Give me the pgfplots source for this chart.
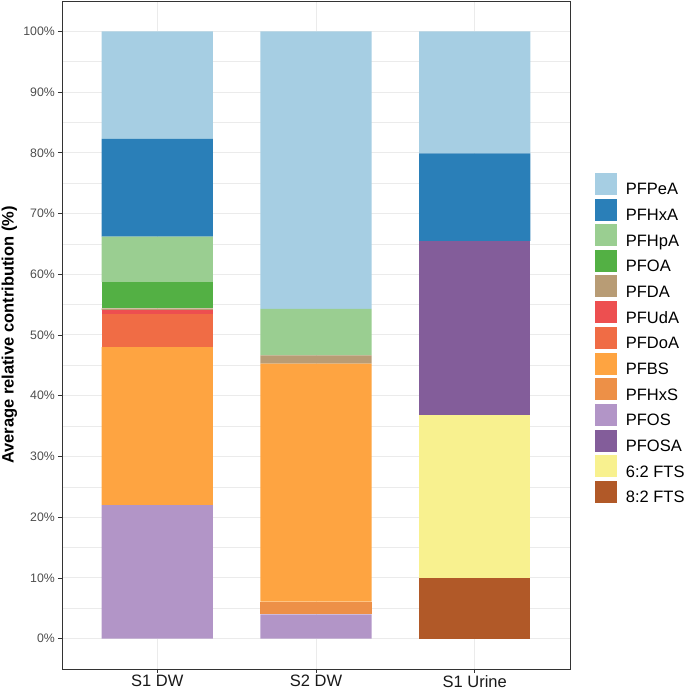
\documentclass[border=0pt]{standalone}
\usepackage{pgfplots}
\pgfplotsset{compat=1.18}
\usepackage{pgfplotstable}
\usepackage{fontspec}
\setmainfont{Liberation Sans}
\definecolor{cPFPeA}{HTML}{A6CEE3}
\definecolor{cPFHxA}{HTML}{2A7FB8}
\definecolor{cPFHpA}{HTML}{9ACE91}
\definecolor{cPFOA}{HTML}{53B044}
\definecolor{cPFDA}{HTML}{B89C75}
\definecolor{cPFUdA}{HTML}{ED4F50}
\definecolor{cPFDoA}{HTML}{F06C45}
\definecolor{cPFBS}{HTML}{FEA441}
\definecolor{cPFHxS}{HTML}{ED9047}
\definecolor{cPFOS}{HTML}{B295C7}
\definecolor{cPFOSA}{HTML}{835D9A}
\definecolor{cFTSa}{HTML}{F8F18F}
\definecolor{cFTSb}{HTML}{B15928}
\definecolor{gridc}{HTML}{EBEBEB}
\definecolor{borderc}{HTML}{333333}
\definecolor{ticklab}{HTML}{4D4D4D}

\pgfplotstableread{
x PFPeA PFHxA PFHpA PFOA PFDA PFUdA PFDoA PFBS PFHxS PFOS PFOSA FTSa FTSb
0 17.7 16.1 7.5 4.3 0.3 0.7 5.4 26.0 0 22.0 0 0 0
1 45.7 0 7.65 0 1.35 0 0 39.2 2.1 4.0 0 0 0
2 20.1 14.4 0 0 0 0 0 0 0 0 28.7 26.8 10.0
}\datatable

\begin{document}
\begin{tikzpicture}
\path[use as bounding box] (-62pt,-21pt) rectangle (623pt,669pt);
\begin{axis}[
  at={(0,0)}, anchor=south west,
  scale only axis, width=508pt, height=668pt,
  xmin=-0.6, xmax=2.6, ymin=-5, ymax=105,
  ybar stacked, bar width=0.7,
  xtick={0,1,2}, xticklabels={S1 DW,S2 DW,S1 Urine},
  ytick={0,10,...,100},
  yticklabels={0\%,10\%,20\%,30\%,40\%,50\%,60\%,70\%,80\%,90\%,100\%},
  minor ytick={5,15,...,95},
  xmajorgrids, ymajorgrids, yminorgrids,
  major grid style={line width=1pt, color=gridc},
  minor grid style={line width=0.5pt, color=gridc},
  axis line style={line width=0.8pt, color=borderc},
  tick style={line width=0.8pt, color=borderc},
  tick align=outside, major tick length=4pt, minor tick length=0pt,
  tick pos=left,
  xticklabel style={font=\fontsize{16.5}{18}\selectfont, color=black!90, inner sep=0pt, anchor=north, yshift=-2pt},
  yticklabel style={font=\fontsize{12.3}{14}\selectfont, color=ticklab, inner sep=0pt, anchor=east, xshift=-3pt},
  ylabel={Average relative contribution (\%)},
  every axis y label/.style={at={([xshift=-60.5pt]axis description cs:0,0.5)}, rotate=90, anchor=north, inner sep=0pt, font=\fontsize{16.5}{18}\selectfont\bfseries},
  reverse legend,
  legend cell align=left,
  legend style={at={(1,0.4945)}, anchor=west, xshift=25pt, draw=none, fill=none, inner sep=0pt, row sep=2.25pt,
    font=\fontsize{16.5}{18}\selectfont, nodes={inner sep=0pt},
    /tikz/every odd column/.append style={column sep=8.7pt}},
  every axis plot post/.append style={draw=none, legend image code/.code={\fill[##1] (0pt,-5.1pt) rectangle (22pt,16.9pt);}},
]
\addplot[fill=cFTSb] table[x=x,y=FTSb]{\datatable}; \addlegendentry{8:2 FTS}
\addplot[fill=cFTSa] table[x=x,y=FTSa]{\datatable}; \addlegendentry{6:2 FTS}
\addplot[fill=cPFOSA] table[x=x,y=PFOSA]{\datatable}; \addlegendentry{PFOSA}
\addplot[fill=cPFOS] table[x=x,y=PFOS]{\datatable}; \addlegendentry{PFOS}
\addplot[fill=cPFHxS] table[x=x,y=PFHxS]{\datatable}; \addlegendentry{PFHxS}
\addplot[fill=cPFBS] table[x=x,y=PFBS]{\datatable}; \addlegendentry{PFBS}
\addplot[fill=cPFDoA] table[x=x,y=PFDoA]{\datatable}; \addlegendentry{PFDoA}
\addplot[fill=cPFUdA] table[x=x,y=PFUdA]{\datatable}; \addlegendentry{PFUdA}
\addplot[fill=cPFDA] table[x=x,y=PFDA]{\datatable}; \addlegendentry{PFDA}
\addplot[fill=cPFOA] table[x=x,y=PFOA]{\datatable}; \addlegendentry{PFOA}
\addplot[fill=cPFHpA] table[x=x,y=PFHpA]{\datatable}; \addlegendentry{PFHpA}
\addplot[fill=cPFHxA] table[x=x,y=PFHxA]{\datatable}; \addlegendentry{PFHxA}
\addplot[fill=cPFPeA] table[x=x,y=PFPeA]{\datatable}; \addlegendentry{PFPeA}
\end{axis}
\end{tikzpicture}
\end{document}
